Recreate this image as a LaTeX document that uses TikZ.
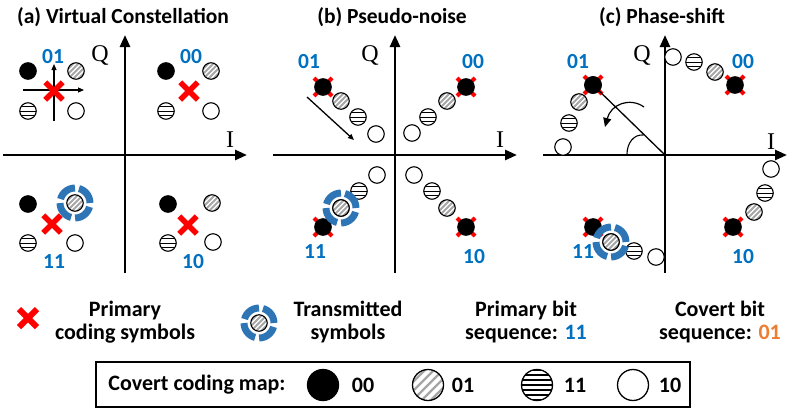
\documentclass[tikz,border=0pt]{standalone}
\usepackage{fontspec}
\setmainfont{Carlito}
\newfontfamily\axfont{Liberation Serif}
\usetikzlibrary{arrows.meta,shapes.misc,calc}
\definecolor{lblue}{HTML}{0070C0}
\definecolor{orng}{HTML}{ED7D31}
\definecolor{ringblue}{HTML}{2E75B6}
\definecolor{hgray}{HTML}{A6A6A6}
\tikzset{
  axisarrow/.style={line width=2.6pt, -{Triangle[length=12pt,width=10pt]}},
  thinarrow/.style={line width=1.1pt, -{Triangle[length=6pt,width=5pt]}},
  ttl/.style={font=\bfseries\fontsize{21.5}{23}\selectfont},
  lbl/.style={font=\bfseries\fontsize{21.5}{23}\selectfont, text=lblue},
  axl/.style={font=\axfont\fontsize{24}{26}\selectfont},
  txt/.style={font=\bfseries\fontsize{22}{22.5}\selectfont, align=center},
  sym/.style={circle, draw, line width=1.1pt, minimum size=16.5pt, inner sep=0pt, outer sep=0pt, fill=white},
  bigsym/.style={sym, line width=1.3pt, minimum size=31pt},
  s00/.style={sym, fill=black},
  s10/.style={sym},
  s01/.style 2 args={sym, path picture={
    \foreach \k in {-4,...,4}{\draw[hgray, line width=#2]
      ([shift={(\k*#1-25pt,-25pt)}]path picture bounding box.center) -- ++(50pt,50pt);}}},
  s11/.style 2 args={sym, path picture={
    \foreach \k in {-3,...,3}{\draw[black, line width=#2]
      ([shift={(-25pt,\k*#1)}]path picture bounding box.center) -- ++(50pt,0pt);}}},
  xm/.style={cross out, draw=red, line width=5.5pt, minimum size=17.5pt, inner sep=0pt, outer sep=0pt},
  xb/.style={cross out, draw=red, line width=4pt, minimum size=18pt, inner sep=0pt, outer sep=0pt},
  ringsym/.style={circle, draw=ringblue, line width=7pt, minimum size=30pt, inner sep=0pt, dash pattern=on 19.5pt off 4.06pt},
}
\begin{document}
\begin{tikzpicture}[x=1pt,y=-1pt]
\useasboundingbox (0,0) rectangle (789,413);

% ---------- titles
\node[ttl] (ta) at (123,17) {(a) Virtual Constellation};
\node[ttl] (tb) at (392,17) {(b) Pseudo-noise};
\node[ttl] (tc) at (662,17) {(c) Phase-shift};

% ---------- axes
\foreach \p/\ox in {a/125,b/395,c/665}{
  \coordinate (\p-o) at (\ox,155);
  \coordinate (\p-l) at (\ox-122,155);
  \coordinate (\p-r) at (\ox+122,155);
  \coordinate (\p-b) at (\ox,273);
  \coordinate (\p-t) at (\ox,35);
  \draw[axisarrow] (\p-l) -- (\p-r);
  \draw[axisarrow] (\p-b) -- (\p-t);
}
\node[axl] (qa) at (100,55) {Q};
\node[axl] (ia) at (230,140) {I};
\node[axl] (qb) at (370,55) {Q};
\node[axl] (ib) at (500,140) {I};
\node[axl] (qc) at (642,55) {Q};
\node[axl] (ic) at (771,142) {I};

% ---------- panel (a)
\coordinate (ah1) at (23,90);
\coordinate (ah2) at (84,90);
\coordinate (av1) at (54,121);
\coordinate (av2) at (54,64);
\draw[thinarrow] (ah1) -- (ah2);
\draw[thinarrow] (av1) -- (av2);

\node[xm] (a01x) at (54,91) {};
\node[s00] (a01-0) at (28,71) {};
\node[s01={5pt}{1.8pt}] (a01-1) at (76,71) {};
\node[s11={4.8pt}{1pt}] (a01-3) at (28,111) {};
\node[s10] (a01-2) at (76,111) {};

\node[xm] (a00x) at (189,91) {};
\node[s00] (a00-0) at (166,71) {};
\node[s01={5pt}{1.8pt}] (a00-1) at (211,71) {};
\node[s11={4.8pt}{1pt}] (a00-3) at (166,111) {};
\node[s10] (a00-2) at (211,111) {};

\node[xm] (a11x) at (52,224) {};
\node[s00] (a11-0) at (28,204) {};
\node[ringsym] (ringa) at (75,203) {};
\node[s01={5pt}{1.8pt}] (a11-1) at (75,203) {};
\node[s11={4.8pt}{1pt}] (a11-3) at (28,243) {};
\node[s10] (a11-2) at (75,243) {};

\node[xm] (a10x) at (188,225) {};
\node[s00] (a10-0) at (168,204) {};
\node[s01={5pt}{1.8pt}] (a10-1) at (212,203) {};
\node[s11={4.8pt}{1pt}] (a10-3) at (168,243) {};
\node[s10] (a10-2) at (213,242) {};

\node[lbl] (la01) at (53,57) {01};
\node[lbl] (la00) at (191,57) {00};
\node[lbl] (la11) at (54,262) {11};
\node[lbl] (la10) at (193,262) {10};

% ---------- panel (b)
\coordinate (bs) at (307,97);
\coordinate (be) at (354,140);
\draw[thinarrow, line width=1.3pt] (bs) -- (be);

\foreach \q/\xa/\ya/\xb/\yb/\xc/\yc/\xd/\yd in {
  01/323/87/341/101/358/117/376/134,
  00/466/87/447/101/428/117/412/133,
  11/323/227/341/208/359/191/377/175,
  10/466/227/447/208/432/191/414/175}{
  \node[xb] (b\q x) at (\xa,\ya) {};
  \node[s00] (b\q-0) at (\xa,\ya) {};
  \node[s01={5pt}{1.8pt}] (b\q-1) at (\xb,\yb) {};
  \node[s11={4.8pt}{1pt}] (b\q-3) at (\xc,\yc) {};
  \node[s10] (b\q-2) at (\xd,\yd) {};
}
\node[ringsym] (ringb) at (341,208) {};
\node[s01={5pt}{1.8pt}] (b11-1b) at (341,208) {};

\node[lbl] (lb01) at (309,62) {01};
\node[lbl] (lb00) at (473,62) {00};
\node[lbl] (lb11) at (315,252) {11};
\node[lbl] (lb10) at (474,257) {10};

% ---------- panel (c)
\coordinate (cang1) at (627,154);
\coordinate (cang2) at (643.5,135);
\draw[line width=1.1pt] (cang1) .. controls (627,143) and (634,134) .. (cang2);
\coordinate (carr1) at (644,107);
\coordinate (carr2) at (605,127);
\draw[line width=1.2pt, -{Triangle[length=9pt,width=8pt]}] (carr1) .. controls (630,97) and (611,104) .. (carr2);

\foreach \q/\xa/\ya/\xb/\yb/\xc/\yc/\xd/\yd in {
  01/593/85/579/102/569/123/563/147,
  00/735/85/715/72/694/62/673/57,
  11/593/227/611/242/634/251/656/257,
  10/733/227/754/212/765/193/771/169}{
  \node[xb] (c\q x) at (\xa,\ya) {};
  \node[s00] (c\q-0) at (\xa,\ya) {};
  \node[s01={5pt}{1.8pt}] (c\q-1) at (\xb,\yb) {};
  \node[s11={4.8pt}{1pt}] (c\q-3) at (\xc,\yc) {};
  \node[s10] (c\q-2) at (\xd,\yd) {};
}
\draw[line width=1.3pt] (c-o) -- (c01-0);
\node[s00] (c01-0b) at (593,85) {};
\node[ringsym] (ringc) at (611,242) {};
\node[s01={5pt}{1.8pt}] (c11-1b) at (611,242) {};

\node[lbl] (lc01) at (578,62) {01};
\node[lbl] (lc00) at (743,62) {00};
\node[lbl] (lc11) at (583,252) {11};
\node[lbl] (lc10) at (743,257) {10};

% ---------- legend row
\node[xm, minimum size=18pt, line width=6pt] (legx) at (28,318) {};
\node[txt] (legxt) at (125,322) {Primary\\coding symbols};
\node[ringsym] (legring) at (259,323) {};
\node[s01={5pt}{1.8pt}] (legringin) at (259,323) {};
\node[txt] (legrt) at (348,322) {Transmitted\\symbols};
\node[txt] (legp) at (526,322) {Primary bit\\sequence: \textcolor{lblue}{11}};
\node[txt] (legc) at (720,322) {Covert bit\\sequence: \textcolor{orng}{01}};

% ---------- coding map box
\node[draw, line width=1.3pt, minimum width=594pt, minimum height=45pt, inner sep=0pt] (box) at (393,384.5) {};
\node[txt] (mapt) at (197,385) {Covert coding map:};
\node[bigsym, fill=black] (m00) at (323,385) {};
\node[txt] (m00t) at (363,385) {00};
\node[bigsym, s01={9pt}{2.2pt}, line width=1.3pt, minimum size=31pt] (m01) at (428,385) {};
\node[txt] (m01t) at (463,385) {01};
\node[bigsym, s11={5pt}{1.2pt}, line width=1.3pt, minimum size=31pt] (m11) at (537,385) {};
\node[txt] (m11t) at (575,385) {11};
\node[bigsym] (m10) at (633,385) {};
\node[txt] (m10t) at (670,385) {10};
\end{tikzpicture}
\end{document}
